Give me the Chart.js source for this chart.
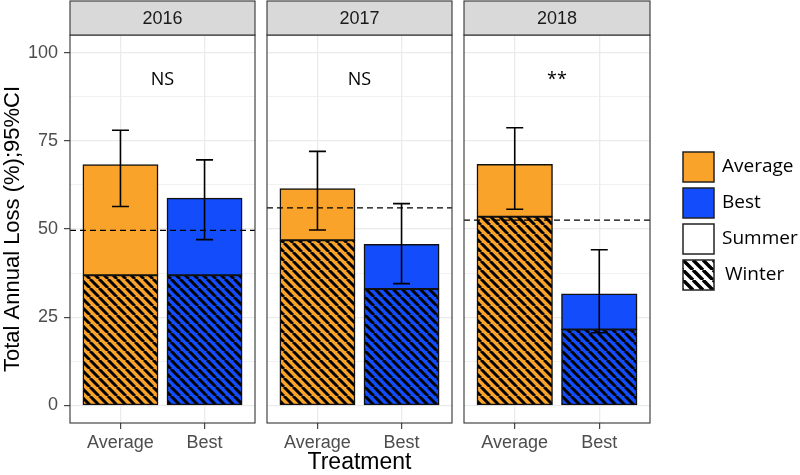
<!DOCTYPE html>
<html>
<head>
<meta charset="utf-8">
<script src="https://cdn.jsdelivr.net/npm/chart.js@4.4.1/dist/chart.umd.min.js"></script>
<style>
  html, body { margin: 0; padding: 0; background: #fff; }
  #wrap { position: relative; width: 800px; height: 475px; overflow: hidden; }
  .facet { position: absolute; top: 0; height: 475px; }
</style>
</head>
<body>
<div id="wrap">
  <div class="facet" style="left:0;width:257px"><canvas id="f0"></canvas></div>
  <div class="facet" style="left:266px;width:188px"><canvas id="f1"></canvas></div>
  <div class="facet" style="left:463px;width:337px"><canvas id="f2"></canvas></div>
</div>
<script>
// ===========================
// Data
// ===========================
const years = ["2016", "2017", "2018"];
const treatments = ["Average", "Best"];
const totalAverage = [68.2, 61.4, 68.3];
const totalBest = [58.7, 45.6, 31.6];
const winterAverage = [36.9, 46.8, 53.5];
const winterBest = [36.9, 33.0, 21.5];
const ciLowAverage = [56.4, 49.7, 55.6];
const ciHighAverage = [78.0, 72.0, 78.7];
const ciLowBest = [47.0, 34.5, 20.6];
const ciHighBest = [69.6, 57.2, 44.1];
const refLine = [49.6, 56.0, 52.5];
const significance = ["NS", "NS", "**"];
const yTicks = [0, 12.5, 25, 37.5, 50, 62.5, 75, 87.5, 100];
const legendLabels = ["Average", "Best", "Summer", "Winter"];

// ===========================
// Styling
// ===========================
const ORANGE = "#FAA32B";
const BLUE = "#134DFB";
const GG_FONT = "'Liberation Sans', Arial, sans-serif";
const NOTE_FONT = "'Open Sans', 'Noto Sans', sans-serif";
Chart.defaults.font.family = GG_FONT;

const tmp = document.createElement("canvas").getContext("2d");
function hatchPattern(bg, size, lw){
  const c = document.createElement("canvas");
  c.width = size; c.height = size;
  const g = c.getContext("2d");
  g.fillStyle = bg; g.fillRect(0, 0, size, size);
  g.strokeStyle = "#000"; g.lineWidth = lw;
  g.beginPath();
  for(let k = -1; k <= 1; k++){ g.moveTo(k*size, 0); g.lineTo(k*size + size, size); }
  g.stroke();
  return tmp.createPattern(c, "repeat");
}
const orangeHatch = hatchPattern(ORANGE, 9, 3);
const blueHatch = hatchPattern(BLUE, 9, 3);
const legendHatch = hatchPattern("#fff", 10, 3.5);

// ===========================
// Facet plugin: strip, border, ref line, CI, note, legend
// ===========================
const facetPlugin = {
  id: "facet",
  afterDatasetsDraw(chart, args, opts){
    const i = opts.index;
    const ctx = chart.ctx, xs = chart.scales.x, ys = chart.scales.y;
    const a = chart.chartArea;
    ctx.save();
    // reference line
    ctx.strokeStyle = "#000"; ctx.lineWidth = 1.3; ctx.setLineDash([6, 4]);
    const ry = ys.getPixelForValue(refLine[i]);
    ctx.beginPath(); ctx.moveTo(a.left, ry); ctx.lineTo(a.right, ry); ctx.stroke();
    ctx.setLineDash([]);
    // confidence intervals
    ctx.lineWidth = 1.6;
    [[ciLowAverage, ciHighAverage], [ciLowBest, ciHighBest]].forEach(([lo, hi], k)=>{
      const px = xs.getPixelForValue(k + 1);
      const y1 = ys.getPixelForValue(lo[i]), y2 = ys.getPixelForValue(hi[i]);
      ctx.beginPath();
      ctx.moveTo(px, y1); ctx.lineTo(px, y2);
      ctx.moveTo(px - 8.5, y1); ctx.lineTo(px + 8.5, y1);
      ctx.moveTo(px - 8.5, y2); ctx.lineTo(px + 8.5, y2);
      ctx.stroke();
    });
    // significance note
    ctx.fillStyle = "#000"; ctx.font = "18px " + NOTE_FONT;
    ctx.textAlign = "center"; ctx.textBaseline = "alphabetic";
    ctx.fillText(significance[i], xs.getPixelForValue(1.5), ys.getPixelForValue(90.7));
    ctx.restore();
  },
  afterDraw(chart, args, opts){
    const i = opts.index;
    const ctx = chart.ctx, a = chart.chartArea;
    ctx.save();
    // panel border
    ctx.strokeStyle = "#333"; ctx.lineWidth = 1.1;
    ctx.strokeRect(a.left, a.top, a.right - a.left, a.bottom - a.top);
    // strip
    ctx.fillStyle = "#d9d9d9";
    ctx.fillRect(a.left, 1, a.right - a.left, a.top - 1);
    ctx.strokeRect(a.left, 1, a.right - a.left, a.top - 1);
    ctx.fillStyle = "#1a1a1a"; ctx.font = "18px " + GG_FONT;
    ctx.textAlign = "center"; ctx.textBaseline = "middle";
    ctx.fillText(years[i], (a.left + a.right)/2, (a.top + 1)/2 + 1);
    // legend on the last facet
    if(opts.legend){
      const fills = [ORANGE, BLUE, "#fff", legendHatch];
      const bx = a.right + 33;
      legendLabels.forEach((lab, k)=>{
        const by = 152 + k*36;
        ctx.fillStyle = fills[k];
        ctx.fillRect(bx, by, 31, 30);
        ctx.strokeStyle = "#222"; ctx.lineWidth = 1.5;
        ctx.strokeRect(bx, by, 31, 30);
        ctx.fillStyle = "#000"; ctx.font = "19px " + NOTE_FONT;
        ctx.textAlign = "left"; ctx.textBaseline = "middle";
        ctx.fillText(lab, bx + 39 + (k === 3 ? 3 : 0), by + 15);
      });
    }
    ctx.restore();
  }
};

// ===========================
// Build one facet
// ===========================
function makeFacet(i){
  const first = i === 0, middle = i === 1, last = i === 2;
  const winter = [winterAverage[i], winterBest[i]];
  const summer = [totalAverage[i] - winterAverage[i], totalBest[i] - winterBest[i]];
  return new Chart(document.getElementById("f" + i), {
    type: "bar",
    data: {
      datasets: [
        { label: "Winter", data: winter.map((v, k)=>({x: k + 1, y: v})),
          backgroundColor: [orangeHatch, blueHatch] },
        { label: "Summer", data: summer.map((v, k)=>({x: k + 1, y: v})),
          backgroundColor: [ORANGE, BLUE] }
      ].map(d=>Object.assign(d, {
        borderColor: "#111", borderWidth: 1.5, borderSkipped: false, inflateAmount: 0.5,
        categoryPercentage: 1, barPercentage: 0.89
      }))
    },
    options: {
      responsive: true, maintainAspectRatio: false, animation: false,
      layout: { padding: { top: 35, left: first ? 0 : 1, right: first ? 2 : (middle ? 2 : 150), bottom: 0 } },
      plugins: { legend: { display: false }, tooltip: { enabled: false },
        facet: { index: i, legend: last } },
      scales: {
        x: {
          type: "linear", min: 0.4, max: 2.6, stacked: true, offset: false,
          afterBuildTicks: s=>{ s.ticks = [{value: 1}, {value: 2}]; },
          afterFit: s=>{ s.height = 52; },
          ticks: { color: "#4d4d4d", font: { size: 18 }, padding: 3,
            callback: (v, idx)=>treatments[idx] },
          grid: { offset: false, color: "#ebebeb", lineWidth: 1.3, tickLength: 6, tickColor: "#333", tickWidth: 1.1 },
          border: { display: false },
          title: { display: middle, text: "Treatment", color: "#000",
            font: { size: 23 }, padding: { top: 0, bottom: -1 } }
        },
        y: {
          min: -5, max: 105, stacked: true,
          afterBuildTicks: s=>{ s.ticks = yTicks.map(v=>({value: v})); },
          afterFit: s=>{ s.width = first ? 70 : 0; },
          ticks: { display: first, color: "#4d4d4d", font: { size: 18 }, padding: 6,
            callback: v=>(v % 25 === 0 ? String(v) : "") },
          grid: {
            color: "#ebebeb",
            lineWidth: c=>(c.tick && c.tick.value % 25 === 0 ? 1.3 : 0.7),
            drawTicks: first, tickLength: 6, tickWidth: 1.1,
            tickColor: c=>(c.tick && c.tick.value % 25 === 0 ? "#333" : "rgba(0,0,0,0)")
          },
          border: { display: false },
          title: { display: first, text: "Total Annual Loss (%);95%CI", color: "#000",
            font: { size: 22 }, padding: { top: 0, bottom: 0 } }
        }
      }
    },
    plugins: [facetPlugin]
  });
}

window.onload = ()=>{ years.forEach((y, i)=>makeFacet(i)); };
</script>
</body>
</html>
